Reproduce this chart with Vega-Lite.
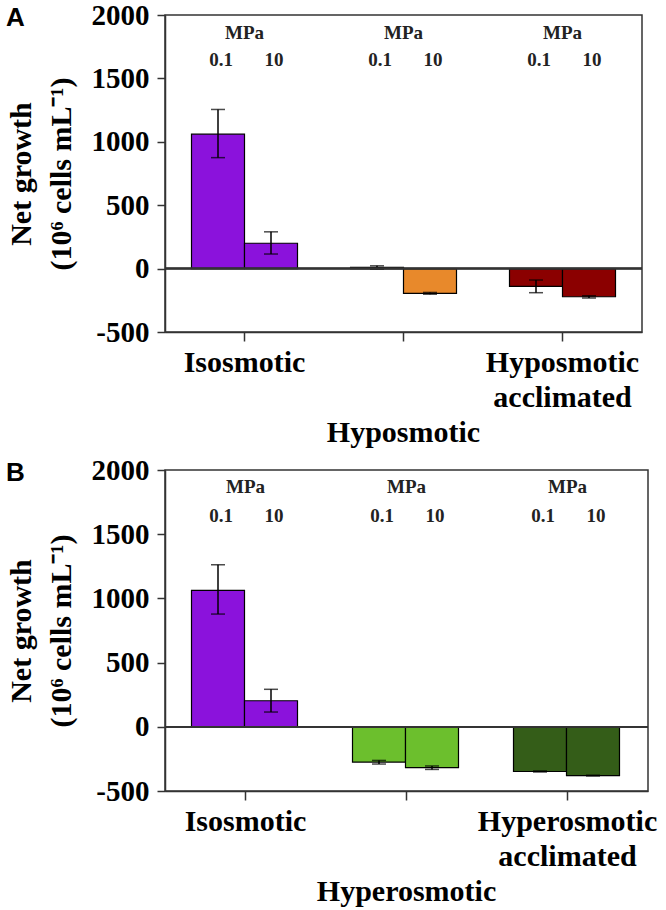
{
  "$schema": "https://vega.github.io/schema/vega-lite/v6.json",
  "padding": {"left": 5, "top": 0, "right": 5, "bottom": 5},
  "bounds": "flush",
  "spacing": 138,
  "config": {
    "font": "Liberation Serif",
    "view": {"stroke": "#333333", "strokeWidth": 1.5},
    "axis": {"domainColor": "#333333", "domainWidth": 1.5, "tickColor": "#333333", "tickWidth": 1.5, "grid": false, "labelColor": "black", "titleColor": "black", "labelFont": "Liberation Serif", "titleFont": "Liberation Serif", "labelFontWeight": "bold", "titleFontWeight": "bold"},
    "title": {"font": "Liberation Sans", "fontSize": 26, "fontWeight": "bold", "color": "black"}
  },
  "datasets": {
    "growth": [
      {"panel": "A", "treatment": "Isosmotic", "pressure": "0.1", "growth": 1060, "lo": 875, "hi": 1255},
      {"panel": "A", "treatment": "Isosmotic", "pressure": "10", "growth": 200, "lo": 115, "hi": 290},
      {"panel": "A", "treatment": "Hyposmotic", "pressure": "0.1", "growth": 10, "lo": -5, "hi": 22},
      {"panel": "A", "treatment": "Hyposmotic", "pressure": "10", "growth": -195, "lo": -202, "hi": -188},
      {"panel": "A", "treatment": "Hyposmotic acclimated", "pressure": "0.1", "growth": -140, "lo": -190, "hi": -90},
      {"panel": "A", "treatment": "Hyposmotic acclimated", "pressure": "10", "growth": -222, "lo": -232, "hi": -214},
      {"panel": "B", "treatment": "Isosmotic", "pressure": "0.1", "growth": 1062, "lo": 878, "hi": 1262},
      {"panel": "B", "treatment": "Isosmotic", "pressure": "10", "growth": 203, "lo": 115, "hi": 292},
      {"panel": "B", "treatment": "Hyperosmotic", "pressure": "0.1", "growth": -275, "lo": -290, "hi": -262},
      {"panel": "B", "treatment": "Hyperosmotic", "pressure": "10", "growth": -318, "lo": -332, "hi": -305},
      {"panel": "B", "treatment": "Hyperosmotic acclimated", "pressure": "0.1", "growth": -348, "lo": -352, "hi": -344},
      {"panel": "B", "treatment": "Hyperosmotic acclimated", "pressure": "10", "growth": -380, "lo": -383, "hi": -377}
    ]
  },
  "vconcat": [
    {
      "width": 477,
      "height": 317,
      "title": {"text": "A", "anchor": "start", "frame": "bounds", "offset": -30},
      "data": {"name": "growth"},
      "transform": [{"filter": "datum.panel === 'A'"}],
      "layer": [
        {
          "mark": {"type": "bar", "stroke": "black", "strokeWidth": 1.2},
          "encoding": {
            "x": {"field": "treatment", "type": "nominal", "sort": ["Isosmotic", "Hyposmotic", "Hyposmotic acclimated"], "scale": {"paddingInner": 0, "paddingOuter": 0},
              "axis": {"title": null, "labelAngle": 0, "tickSize": 9, "labelFontSize": 30, "labelLineHeight": 35, "labelOverlap": false, "labelBound": false,
                "labelPadding": {"condition": {"test": "datum.value === 'Hyposmotic' || datum.value === 'Hyperosmotic'", "value": 76}, "value": 6},
                "labelExpr": "indexof(datum.value, 'acclimated') > 0 ? split(datum.value, ' ') : datum.value"}},
            "xOffset": {"field": "pressure", "type": "nominal", "sort": ["0.1", "10"], "scale": {"paddingInner": 0, "paddingOuter": 0.5}},
            "y": {"field": "growth", "type": "quantitative", "scale": {"domain": [-500, 2000], "nice": false},
              "axis": {"values": [-500, 0, 500, 1000, 1500, 2000], "labelExpr": "'' + datum.value", "tickSize": 8, "labelFontSize": 29, "labelPadding": 8, "title": ["Net growth", "(10⁶ cells mL⁻¹)"], "titleFontSize": 30, "titleLineHeight": 40, "titlePadding": 15}},
            "color": {"field": "treatment", "type": "nominal", "legend": null,
              "scale": {"domain": ["Isosmotic", "Hyposmotic", "Hyposmotic acclimated", "Hyperosmotic", "Hyperosmotic acclimated"], "range": ["#8B12DC", "#E8892B", "#8B0000", "#6CBF2D", "#345D18"]}}
          }
        },
        {
          "mark": {"type": "rule", "color": "black", "strokeWidth": 1.5},
          "encoding": {
            "x": {"field": "treatment", "type": "nominal", "sort": ["Isosmotic", "Hyposmotic", "Hyposmotic acclimated"]},
            "xOffset": {"field": "pressure", "type": "nominal", "sort": ["0.1", "10"]},
            "y": {"field": "lo", "type": "quantitative"},
            "y2": {"field": "hi"}
          }
        },
        {
          "mark": {"type": "tick", "color": "black", "size": 14, "thickness": 1.5},
          "encoding": {
            "x": {"field": "treatment", "type": "nominal", "sort": ["Isosmotic", "Hyposmotic", "Hyposmotic acclimated"]},
            "xOffset": {"field": "pressure", "type": "nominal", "sort": ["0.1", "10"]},
            "y": {"field": "hi", "type": "quantitative"}
          }
        },
        {
          "mark": {"type": "tick", "color": "black", "size": 14, "thickness": 1.5},
          "encoding": {
            "x": {"field": "treatment", "type": "nominal", "sort": ["Isosmotic", "Hyposmotic", "Hyposmotic acclimated"]},
            "xOffset": {"field": "pressure", "type": "nominal", "sort": ["0.1", "10"]},
            "y": {"field": "lo", "type": "quantitative"}
          }
        },
        {
          "mark": {"type": "rule", "color": "#333333", "strokeWidth": 1.5},
          "encoding": {"y": {"datum": 0}}
        },
        {
          "transform": [{"filter": "datum.pressure === '0.1'"}],
          "mark": {"type": "text", "fontSize": 19, "fontWeight": "bold", "color": "#222222", "baseline": "alphabetic"},
          "encoding": {
            "x": {"field": "treatment", "type": "nominal", "sort": ["Isosmotic", "Hyposmotic", "Hyposmotic acclimated"]},
            "y": {"datum": 1810},
            "text": {"value": "MPa"}
          }
        },
        {
          "mark": {"type": "text", "fontSize": 19, "fontWeight": "bold", "color": "#222222", "baseline": "alphabetic", "dx": 3},
          "encoding": {
            "x": {"field": "treatment", "type": "nominal", "sort": ["Isosmotic", "Hyposmotic", "Hyposmotic acclimated"]},
            "xOffset": {"field": "pressure", "type": "nominal", "sort": ["0.1", "10"]},
            "y": {"datum": 1595},
            "text": {"field": "pressure"}
          }
        }
      ]
    },
    {
      "width": 483,
      "height": 321,
      "title": {"text": "B", "anchor": "start", "frame": "bounds", "offset": -30},
      "data": {"name": "growth"},
      "transform": [{"filter": "datum.panel === 'B'"}],
      "layer": [
        {
          "mark": {"type": "bar", "stroke": "black", "strokeWidth": 1.2},
          "encoding": {
            "x": {"field": "treatment", "type": "nominal", "sort": ["Isosmotic", "Hyperosmotic", "Hyperosmotic acclimated"], "scale": {"paddingInner": 0, "paddingOuter": 0},
              "axis": {"title": null, "labelAngle": 0, "tickSize": 9, "labelFontSize": 30, "labelLineHeight": 35, "labelOverlap": false, "labelBound": false,
                "labelPadding": {"condition": {"test": "datum.value === 'Hyposmotic' || datum.value === 'Hyperosmotic'", "value": 76}, "value": 6},
                "labelExpr": "indexof(datum.value, 'acclimated') > 0 ? split(datum.value, ' ') : datum.value"}},
            "xOffset": {"field": "pressure", "type": "nominal", "sort": ["0.1", "10"], "scale": {"paddingInner": 0, "paddingOuter": 0.5}},
            "y": {"field": "growth", "type": "quantitative", "scale": {"domain": [-500, 2000], "nice": false},
              "axis": {"values": [-500, 0, 500, 1000, 1500, 2000], "labelExpr": "'' + datum.value", "tickSize": 8, "labelFontSize": 29, "labelPadding": 8, "title": ["Net growth", "(10⁶ cells mL⁻¹)"], "titleFontSize": 30, "titleLineHeight": 40, "titlePadding": 15}},
            "color": {"field": "treatment", "type": "nominal", "legend": null,
              "scale": {"domain": ["Isosmotic", "Hyposmotic", "Hyposmotic acclimated", "Hyperosmotic", "Hyperosmotic acclimated"], "range": ["#8B12DC", "#E8892B", "#8B0000", "#6CBF2D", "#345D18"]}}
          }
        },
        {
          "mark": {"type": "rule", "color": "black", "strokeWidth": 1.5},
          "encoding": {
            "x": {"field": "treatment", "type": "nominal", "sort": ["Isosmotic", "Hyperosmotic", "Hyperosmotic acclimated"]},
            "xOffset": {"field": "pressure", "type": "nominal", "sort": ["0.1", "10"]},
            "y": {"field": "lo", "type": "quantitative"},
            "y2": {"field": "hi"}
          }
        },
        {
          "mark": {"type": "tick", "color": "black", "size": 14, "thickness": 1.5},
          "encoding": {
            "x": {"field": "treatment", "type": "nominal", "sort": ["Isosmotic", "Hyperosmotic", "Hyperosmotic acclimated"]},
            "xOffset": {"field": "pressure", "type": "nominal", "sort": ["0.1", "10"]},
            "y": {"field": "hi", "type": "quantitative"}
          }
        },
        {
          "mark": {"type": "tick", "color": "black", "size": 14, "thickness": 1.5},
          "encoding": {
            "x": {"field": "treatment", "type": "nominal", "sort": ["Isosmotic", "Hyperosmotic", "Hyperosmotic acclimated"]},
            "xOffset": {"field": "pressure", "type": "nominal", "sort": ["0.1", "10"]},
            "y": {"field": "lo", "type": "quantitative"}
          }
        },
        {
          "mark": {"type": "rule", "color": "#333333", "strokeWidth": 1.5},
          "encoding": {"y": {"datum": 0}}
        },
        {
          "transform": [{"filter": "datum.pressure === '0.1'"}],
          "mark": {"type": "text", "fontSize": 19, "fontWeight": "bold", "color": "#222222", "baseline": "alphabetic"},
          "encoding": {
            "x": {"field": "treatment", "type": "nominal", "sort": ["Isosmotic", "Hyperosmotic", "Hyperosmotic acclimated"]},
            "y": {"datum": 1820},
            "text": {"value": "MPa"}
          }
        },
        {
          "mark": {"type": "text", "fontSize": 19, "fontWeight": "bold", "color": "#222222", "baseline": "alphabetic", "dx": 3},
          "encoding": {
            "x": {"field": "treatment", "type": "nominal", "sort": ["Isosmotic", "Hyperosmotic", "Hyperosmotic acclimated"]},
            "xOffset": {"field": "pressure", "type": "nominal", "sort": ["0.1", "10"]},
            "y": {"datum": 1595},
            "text": {"field": "pressure"}
          }
        }
      ]
    }
  ]
}
